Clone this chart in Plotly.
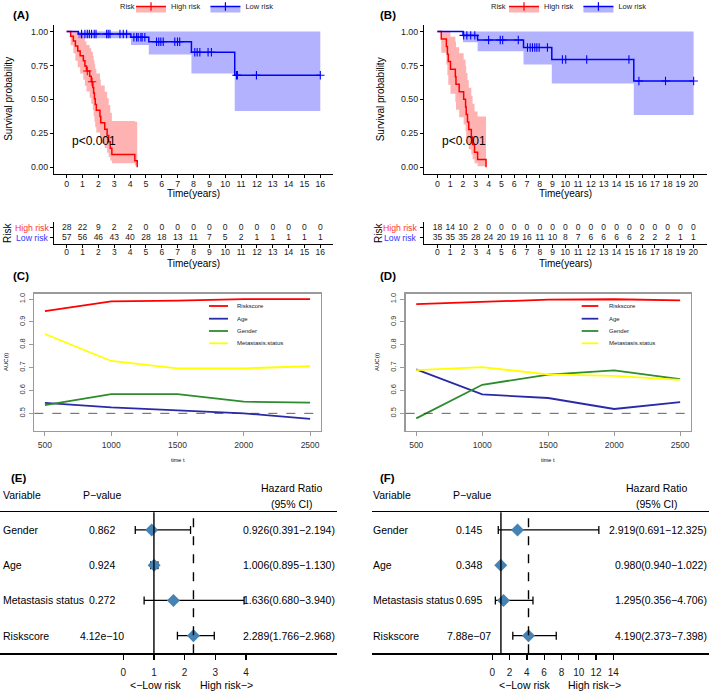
import plotly.graph_objects as go
import numpy as np

W, H = 709, 691
FONT = "Liberation Sans, Arial, Helvetica, sans-serif"
RED, BLUE = "#FF0000", "#0000FF"
RED_FILL, BLUE_FILL = "rgba(255,0,0,0.3)", "rgba(0,0,255,0.3)"


def fx(px):
    return px / W


def fy(py):
    return 1 - py / H


# ---------------- Panel A: Kaplan-Meier ----------------
A_high_t = [0, 0.25, 0.42, 0.55, 0.70, 0.85, 1.05, 1.15, 1.25, 1.45, 1.55, 1.65, 1.70,
            1.75, 1.80, 1.87, 2.10, 2.15, 2.40, 2.55, 2.65, 2.75, 2.85, 4.30, 4.45]
A_high_s = [1, .964, .929, .893, .857, .821, .784, .746, .709, .670, .630, .588, .546,
            .504, .462, .420, .373, .327, .280, .233, .187, .140, .093, .047, 0]
A_high_lo = [1, .898, .839, .785, .737, .691, .645, .601, .558, .512, .467, .421, .377,
             .335, .294, .256, .215, .177, .141, .107, .076, .049, .030, .012, 0]
A_high_hi = [1, 1, 1, 1, .997, .976, .953, .927, .900, .876, .850, .821, .791,
             .759, .725, .690, .646, .602, .556, .508, .458, .402, .340, .335, 0]
A_high_cens = [1.30, 1.60]

A_low_t = [0, 0.73, 4.05, 5.18, 7.87, 10.60]
A_low_s = [1, .982, .958, .924, .847, .678]
A_low_lo = [1, .950, .900, .830, .690, .415]
A_low_hi = [1, 1, 1, 1, 1, 1]
A_low_end = 16.0
A_low_cens = [0.94, 1.15, 1.30, 1.43, 1.57, 1.74, 1.85, 2.52, 2.62, 2.73, 3.36, 3.57, 3.78,
              4.24, 4.41, 4.51, 4.68, 4.76, 4.93, 5.67, 5.81, 5.94, 6.09, 6.82, 6.99, 7.13,
              8.08, 8.23, 8.40, 8.92, 9.13, 10.71, 10.77, 11.97, 16.0]

# ---------------- Panel B: Kaplan-Meier ----------------
B_high_t = [0, 0.30, 0.70, 0.78, 0.85, 1.02, 1.40, 1.45, 1.70, 2.05, 2.20, 2.25, 2.35,
            2.45, 2.65, 2.75, 2.90, 3.14, 3.80]
B_high_s = [1, .944, .889, .833, .778, .722, .667, .611, .556, .500, .444, .389, .333,
            .278, .222, .167, .111, .056, 0]
B_high_lo = [1, .844, .755, .677, .608, .542, .481, .423, .368, .315, .265, .218, .173,
             .132, .094, .059, .030, .008, 0]
B_high_hi = [1, 1, 1, 1, .996, .961, .924, .884, .840, .794, .745, .694, .640,
             .585, .527, .468, .410, .373, 0]
B_high_cens = []

B_low_t = [0, 2.00, 3.14, 6.73, 8.94, 15.35]
B_low_s = [1, .971, .937, .882, .794, .635]
B_low_lo = [1, .920, .855, .757, .617, .385]
B_low_hi = [1, 1, 1, 1, 1, 1]
B_low_end = 20.03
B_low_cens = [2.05, 2.30, 2.60, 2.92, 4.00, 4.91, 5.10, 6.32, 7.04, 7.25, 7.43, 7.61, 7.77,
              7.95, 8.60, 9.77, 10.03, 11.67, 14.97, 15.75, 17.83, 20.03]

# ---------------- Risk tables ----------------
A_risk_times = list(range(0, 17))
A_high_risk = [28, 22, 9, 2, 2, 0, 0, 0, 0, 0, 0, 0, 0, 0, 0, 0, 0]
A_low_risk = [57, 56, 46, 43, 40, 28, 18, 13, 11, 7, 5, 2, 1, 1, 1, 1, 1]
B_risk_times = list(range(0, 21))
B_high_risk = [18, 14, 10, 2, 0, 0, 0, 0, 0, 0, 0, 0, 0, 0, 0, 0, 0, 0, 0, 0, 0]
B_low_risk = [35, 35, 35, 28, 24, 20, 19, 16, 11, 10, 8, 7, 6, 6, 6, 6, 2, 2, 2, 1, 1]

# ---------------- Time-dependent AUC ----------------
auc_times = [500, 1000, 1500, 2000, 2500]
auc_names = ["Riskscore", "Age", "Gender", "Metastasis.status"]
auc_colors = ["#FF0000", "#2A2AA8", "#2E8B2E", "#FFFF00"]
C_riskscore = [0.947, 0.990, 0.993, 1.000, 1.000]
C_age = [0.546, 0.526, 0.513, 0.500, 0.476]
C_gender = [0.536, 0.584, 0.584, 0.551, 0.547]
C_meta = [0.847, 0.729, 0.697, 0.697, 0.706]
D_riskscore = [0.978, 0.987, 0.997, 0.999, 0.994]
D_age = [0.692, 0.583, 0.567, 0.519, 0.549]
D_gender = [0.478, 0.625, 0.669, 0.688, 0.650]
D_meta = [0.689, 0.702, 0.670, 0.664, 0.646]

# ---------------- Forest plots ----------------
forest_vars = ["Gender", "Age", "Metastasis status", "Riskscore"]
E_p = ["0.862", "0.924", "0.272", "4.12e\u221210"]
E_hr = [0.926, 1.006, 1.636, 2.289]
E_low = [0.391, 0.895, 0.680, 1.766]
E_high = [2.194, 1.130, 3.940, 2.968]
F_p = ["0.145", "0.348", "0.695", "7.88e\u221207"]
F_hr = [2.919, 0.980, 1.295, 4.190]
F_low = [0.691, 0.940, 0.356, 2.373]
F_high = [12.325, 1.022, 4.706, 7.398]
E_ticks = [0, 1, 2, 3, 4]
F_ticks = [0, 2, 4, 6, 8, 10, 12, 14]

fig = go.Figure()
ann = []
shapes = []


def note(text, x, y, size, xanchor="center", yanchor="middle", color="black",
         angle=0, xref="paper", yref="paper"):
    ann.append(dict(text=text, x=x, y=y, xref=xref, yref=yref, xanchor=xanchor,
                    yanchor=yanchor, showarrow=False, textangle=angle,
                    font=dict(size=size, color=color, family=FONT)))


def add_km(xa, ya, t, s, lo, hi, end_t, cens, color, fill):
    tt, ss, ll, hh = list(t), list(s), list(lo), list(hi)
    if end_t is not None:
        tt.append(end_t); ss.append(s[-1]); ll.append(lo[-1]); hh.append(hi[-1])
    fig.add_trace(go.Scatter(x=tt, y=ll, xaxis=xa, yaxis=ya, mode="lines",
                             line=dict(width=0, shape="hv", color=fill),
                             showlegend=False, hoverinfo="skip"))
    fig.add_trace(go.Scatter(x=tt, y=hh, xaxis=xa, yaxis=ya, mode="lines",
                             line=dict(width=0, shape="hv", color=fill), fill="tonexty",
                             fillcolor=fill, showlegend=False, hoverinfo="skip"))
    fig.add_trace(go.Scatter(x=tt, y=ss, xaxis=xa, yaxis=ya, mode="lines",
                             line=dict(width=1.5, shape="hv", color=color),
                             showlegend=False, hoverinfo="skip"))
    if cens:
        tarr = np.array(t)
        cy = [s[int(np.searchsorted(tarr, c, side="right")) - 1] for c in cens]
        fig.add_trace(go.Scatter(x=cens, y=cy, xaxis=xa, yaxis=ya, mode="markers",
                                 marker=dict(symbol="cross-thin", size=6,
                                             line=dict(color=color, width=1.1)),
                                 showlegend=False, hoverinfo="skip"))


add_km("x", "y", A_high_t, A_high_s, A_high_lo, A_high_hi, None, A_high_cens, RED, RED_FILL)
add_km("x", "y", A_low_t, A_low_s, A_low_lo, A_low_hi, A_low_end, A_low_cens, BLUE, BLUE_FILL)
add_km("x2", "y2", B_high_t, B_high_s, B_high_lo, B_high_hi, None, B_high_cens, RED, RED_FILL)
add_km("x2", "y2", B_low_t, B_low_s, B_low_lo, B_low_hi, B_low_end, B_low_cens, BLUE, BLUE_FILL)

# legend entries for KM panels
for leg, xa, ya in [("legend", "x", "y"), ("legend2", "x2", "y2")]:
    for name, col, fcol in [("High risk", RED, RED_FILL), ("Low risk", BLUE, BLUE_FILL)]:
        fig.add_trace(go.Scatter(x=[None], y=[None], xaxis=xa, yaxis=ya, name=name,
                                 mode="lines+markers", fill="toself", fillcolor=fcol,
                                 line=dict(color=col, width=1.5),
                                 marker=dict(symbol="cross-thin", size=6,
                                             line=dict(color=col, width=1.2)),
                                 legend=leg, showlegend=True))

# risk tables
for xa, ya, times, hi_r, lo_r in [("x3", "y3", A_risk_times, A_high_risk, A_low_risk),
                                  ("x4", "y4", B_risk_times, B_high_risk, B_low_risk)]:
    fig.add_trace(go.Scatter(x=times + times, y=[1] * len(times) + [0] * len(times),
                             text=[str(v) for v in hi_r + lo_r], mode="text",
                             textfont=dict(size=8.5, color="#1a1a1a", family=FONT),
                             xaxis=xa, yaxis=ya, showlegend=False, hoverinfo="skip"))

# AUC curves
for xa, ya, series in [("x5", "y5", [C_riskscore, C_age, C_gender, C_meta]),
                       ("x6", "y6", [D_riskscore, D_age, D_gender, D_meta])]:
    for vals, col in zip(series, auc_colors):
        fig.add_trace(go.Scatter(x=auc_times, y=vals, xaxis=xa, yaxis=ya, mode="lines",
                                 line=dict(color=col, width=1.8), showlegend=False,
                                 hoverinfo="skip"))
    shapes.append(dict(type="line", xref=xa + " domain", yref=ya, x0=0, x1=1, y0=0.5, y1=0.5,
                       line=dict(color="#333", width=0.8, dash="dash")))

# forest plots
rows = [4, 3, 2, 1]
for xa, ya, hr, lo, hi in [("x7", "y7", E_hr, E_low, E_high), ("x8", "y8", F_hr, F_low, F_high)]:
    fig.add_trace(go.Scatter(x=hr, y=rows, xaxis=xa, yaxis=ya, mode="markers",
                             marker=dict(symbol="diamond", size=10, color="#4682B4"),
                             error_x=dict(type="data", symmetric=False,
                                          array=[h - m for h, m in zip(hi, hr)],
                                          arrayminus=[m - l for m, l in zip(hr, lo)],
                                          color="black", thickness=1.3, width=4),
                             showlegend=False, hoverinfo="skip"))
    shapes.append(dict(type="line", xref=xa, yref=ya + " domain", x0=1, x1=1, y0=0, y1=1,
                       line=dict(color="black", width=1.4)))
    shapes.append(dict(type="line", xref=xa, yref=ya + " domain", x0=hr[-1], x1=hr[-1],
                       y0=0, y1=1, line=dict(color="black", width=1.4, dash="dash")))

# ---------------- axes ----------------
tick_font = dict(size=8.8, color="#1a1a1a", family=FONT)
km_x = dict(showline=True, linecolor="black", linewidth=1.1, ticks="outside", ticklen=3,
            tickcolor="black", tickwidth=1, tickfont=tick_font, showgrid=False, zeroline=False,
            ticklabelstandoff=-2)
km_y = dict(km_x, range=[-0.05, 1.05], tickvals=[0, 0.25, 0.5, 0.75, 1],
            ticktext=["0.00", "0.25", "0.50", "0.75", "1.00"], ticklabelstandoff=0)
rt_x = dict(km_x, ticklabelstandoff=-3, tickfont=dict(size=8.5, color="#1a1a1a", family=FONT))
rt_y = dict(km_x, range=[-0.6, 1.6], tickvals=[0, 1], showticklabels=False)

km_top = [fy(174), fy(24.7)]
rt_dom = [fy(244), fy(221.7)]
A_xd = [fx(54), fx(333)]
B_xd = [fx(424), fx(706.7)]

auc_x = dict(showline=True, mirror=True, linecolor="#9a9a9a", linewidth=1.6, ticks="outside",
             ticklen=4, tickcolor="#9a9a9a", tickwidth=1,
             tickfont=dict(size=8.5, color="#333", family=FONT), showgrid=False,
             zeroline=False, range=[420, 2580], tickvals=auc_times, ticklabelstandoff=1)
auc_y = dict(auc_x, range=[0.424, 1.022], tickvals=[0.5, 0.6, 0.7, 0.8, 0.9, 1.0],
             ticktext=["0.5", "0.6", "0.7", "0.8", "0.9", "1.0"], tickangle=-90,
             tickfont=dict(size=7.5, color="#333", family=FONT))
auc_yd = [fy(430.7), fy(294)]

fo_x = dict(showline=True, mirror=True, linecolor="black", linewidth=1.4, ticks="outside",
            ticklen=5, tickcolor="black", tickwidth=1.3,
            tickfont=dict(size=10, color="#1a1a1a", family=FONT), showgrid=False,
            zeroline=False, ticklabelstandoff=4)
fo_y = dict(range=[0.5, 4.5], showline=False, showticklabels=False, ticks="",
            showgrid=False, zeroline=False)
fo_yd = [fy(653.3), fy(512.3)]

fig.update_layout(
    xaxis=dict(km_x, domain=A_xd, range=[-0.8, 16.8], tickvals=A_risk_times, anchor="y"),
    yaxis=dict(km_y, domain=km_top, anchor="x"),
    xaxis2=dict(km_x, domain=B_xd, range=[-1.05, 21.05], tickvals=B_risk_times, anchor="y2"),
    yaxis2=dict(km_y, domain=km_top, anchor="x2"),
    xaxis3=dict(rt_x, domain=A_xd, range=[-0.8, 16.8], tickvals=A_risk_times, anchor="y3"),
    yaxis3=dict(rt_y, domain=rt_dom, anchor="x3"),
    xaxis4=dict(rt_x, domain=B_xd, range=[-1.05, 21.05], tickvals=B_risk_times, anchor="y4"),
    yaxis4=dict(rt_y, domain=rt_dom, anchor="x4"),
    xaxis5=dict(auc_x, domain=[fx(34.3), fx(320.7)], anchor="y5"),
    yaxis5=dict(auc_y, domain=auc_yd, anchor="x5"),
    xaxis6=dict(auc_x, domain=[fx(405.7), fx(690.7)], anchor="y6"),
    yaxis6=dict(auc_y, domain=auc_yd, anchor="x6"),
    xaxis7=dict(fo_x, domain=[0, fx(337)], range=[-4.02, 6.97], tickvals=E_ticks, anchor="y7"),
    yaxis7=dict(fo_y, domain=fo_yd, anchor="x7"),
    xaxis8=dict(fo_x, domain=[fx(371.7), 1], range=[-13.95, 25.07], tickvals=F_ticks,
                anchor="y8"),
    yaxis8=dict(fo_y, domain=fo_yd, anchor="x8"),
)

leg_common = dict(orientation="h", xanchor="center", y=fy(-8), yanchor="top",
                  font=dict(size=7.5, family=FONT, color="#1a1a1a"),
                  itemwidth=30, bgcolor="rgba(0,0,0,0)", tracegroupgap=0,
                  traceorder="normal")
fig.update_layout(legend=dict(leg_common, x=fx(205)), legend2=dict(leg_common, x=fx(578)))

# ---------------- text annotations ----------------
note("Risk", fx(137), fy(6), 7.5, xanchor="right", color="#1a1a1a")
note("Risk", fx(508), fy(6), 7.5, xanchor="right", color="#1a1a1a")
for lab, x, y in [("(A)", 20.5, 15), ("(B)", 387.5, 15), ("(C)", 20.5, 276),
                  ("(D)", 387.5, 276), ("(E)", 19, 478), ("(F)", 387, 478)]:
    note("<b>%s</b>" % lab, fx(x), fy(y), 11.5)

# KM titles
note("Time(years)", fx(193.5), fy(194), 10)
note("Time(years)", fx(565.3), fy(194), 10)
note("Survival probability", fx(8.5), fy(99.3), 10, angle=-90)
note("Survival probability", fx(380), fy(99.3), 10, angle=-90)
note("p<0.001", 0.2, 0.19, 12, xanchor="left", xref="x", yref="y")
note("p<0.001", 0.2, 0.19, 12, xanchor="left", xref="x2", yref="y2")

# risk table titles
note("Time(years)", fx(193.5), fy(263.5), 10)
note("Time(years)", fx(565.3), fy(263.5), 10)
note("Risk", fx(7.5), fy(232.5), 10, angle=-90)
note("Risk", fx(378.5), fy(232.5), 10, angle=-90)
for xpx, ya in [(50.5, "y3"), (419, "y4")]:
    note("High risk", fx(xpx), 1, 8.7, xanchor="right", color="#FF3333", yref=ya)
    note("Low risk", fx(xpx), 0, 8.7, xanchor="right", color="#3333FF", yref=ya)

# AUC titles and legends
note("AUC(t)", fx(6), fy(362), 6, angle=-90)
note("AUC(t)", fx(377), fy(362), 6, angle=-90)
note("time t", fx(177.5), fy(460), 5.5)
note("time t", fx(548), fy(460), 5.5)
leg_rows = [306, 318.7, 331, 343.3]
for x0, x1, xt in [(209, 228, 235), (581.7, 598.3, 606.5)]:
    for name, col, ry in zip(auc_names, auc_colors, leg_rows):
        shapes.append(dict(type="line", xref="paper", yref="paper", x0=fx(x0), x1=fx(x1),
                           y0=fy(ry), y1=fy(ry), line=dict(color=col, width=1.8)))
        note(name, fx(xt), fy(ry), 6, xanchor="left", color="#222")

# forest texts
fs = 10.5
for (xv, xp_head, xp, xh, hcenter), pvals, hr, lo, hi, ya in [
        ((1, 102, 102, 337, 291.7), E_p, E_hr, E_low, E_high, "y7"),
        ((371, 471.7, 468.5, 709, 656.7), F_p, F_hr, F_low, F_high, "y8")]:
    note("Variable", fx(xv), fy(495), fs, xanchor="left")
    note("P\u2212value", fx(xp_head), fy(495), fs)
    note("Hazard Ratio", fx(hcenter), fy(487.7), fs)
    note("(95% CI)", fx(hcenter), fy(504), fs)
    for name, p, h, l, u, r in zip(forest_vars, pvals, hr, lo, hi, rows):
        note(name, fx(xv), r, fs, xanchor="left", yref=ya)
        note(p, fx(xp), r, fs, yref=ya)
        note("%.3f(%.3f\u2212%.3f)" % (h, l, u), fx(xh), r, fs, xanchor="right", yref=ya)

note("<\u2212Low risk", fx(156.4), fy(685), fs)
note("High risk\u2212>", fx(226.7), fy(685), fs)
note("<\u2212Low risk", fx(525), fy(685), fs)
note("High risk\u2212>", fx(594.2), fy(685), fs)

fig.update_layout(width=W, height=H,
                  margin=dict(l=0, r=0, t=0, b=0, pad=0, autoexpand=False),
                  plot_bgcolor="white", paper_bgcolor="white", hovermode=False,
                  font=dict(family=FONT, color="black"), annotations=ann, shapes=shapes,
                  showlegend=True)

fig.write_html("out.html", config={"displayModeBar": False, "staticPlot": True},
               post_script="document.body.style.margin='0px';")
